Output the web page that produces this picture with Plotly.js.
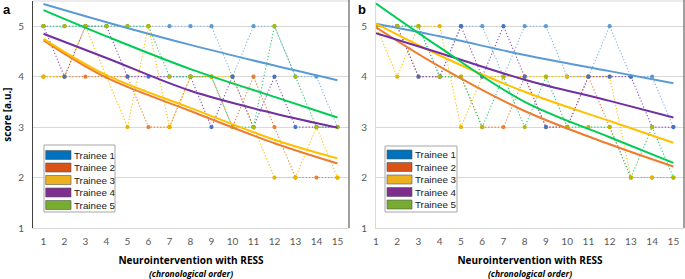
<!DOCTYPE html>
<html>
<head>
<meta charset="utf-8">
<script src="https://cdn.plot.ly/plotly-3.0.1.min.js"></script>
<style>html,body{margin:0;padding:0;background:#fff;}#chart{width:685px;height:279px;}</style>
</head>
<body>
<div id="chart"></div>
<script>
// ---------- data ----------
const interventions = [1,2,3,4,5,6,7,8,9,10,11,12,13,14,15];
const trainees = ['Trainee 1','Trainee 2','Trainee 3','Trainee 4','Trainee 5'];
const yTicks = [1,2,3,4,5];

// panel a: scores per intervention
const aTrainee1 = [5,5,5,5,5,5,5,5,5,4,5,5,4,4,3];
const aTrainee2 = [4,4,4,4,4,3,3,4,4,3,4,3,2,2,2];
const aTrainee3 = [4,4,5,4,3,5,3,4,4,4,3,2,2,3,2];
const aTrainee4 = [5,4,5,5,4,4,4,4,3,4,3,4,3,3,3];
const aTrainee5 = [5,5,5,5,5,5,4,4,4,3,3,5,4,3,3];

// panel b: scores per intervention
const bTrainee1 = [5,5,5,4,5,5,4,5,5,4,4,5,4,4,3];
const bTrainee2 = [5,5,4,4,4,3,3,4,3,3,4,3,2,2,2];
const bTrainee3 = [5,4,5,5,3,4,4,4,4,4,4,4,2,2,2];
const bTrainee4 = [5,5,4,4,5,4,5,4,3,3,4,4,4,3,3];
const bTrainee5 = [5,5,5,4,4,3,4,3,4,3,3,3,2,3,2];

// trend lines (at these interventions)
const trendX = [1,4,8,12,15];
const aTrend1 = [5.44,5.08,4.63,4.22,3.93];
const aTrend2 = [4.72,3.98,3.32,2.68,2.28];
const aTrend3 = [4.75,4.03,3.38,2.75,2.38];
const aTrend4 = [4.85,4.37,3.72,3.27,2.99];
const aTrend5 = [5.32,4.80,4.15,3.60,3.19];
const bTrend1 = [5.05,4.80,4.43,4.11,3.87];
const bTrend2 = [4.98,4.20,3.32,2.66,2.22];
const bTrend3 = [5.05,4.42,3.70,3.12,2.69];
const bTrend4 = [4.86,4.47,3.94,3.52,3.19];
const bTrend5 = [5.45,4.58,3.50,2.80,2.29];

// ---------- styles ----------
const dotLine = ['#7fb2e3','#ED7D31','#FFC000','#8a4fbf','#2ccc75'];
const markerCol = ['#5B9BD5','#ED7D31','#E8B400','#4472C4','#B0BA00'];
const trendCol = ['#5B9BD5','#ED7D31','#FFC000','#7030A0','#00CC55'];
const legendCol = ['#0072BD','#D95319','#EDB120','#7E2F8E','#77AC30'];

const aScores = [aTrainee1,aTrainee2,aTrainee3,aTrainee4,aTrainee5];
const bScores = [bTrainee1,bTrainee2,bTrainee3,bTrainee4,bTrainee5];
const aTrends = [aTrend1,aTrend2,aTrend3,aTrend4,aTrend5];
const bTrends = [bTrend1,bTrend2,bTrend3,bTrend4,bTrend5];

const traces = [];
function addPanel(scores, trends, xa, ya){
  scores.forEach((s,i)=>{
    traces.push({x:interventions, y:s, xaxis:xa, yaxis:ya, type:'scatter', mode:'lines+markers',
      name:trainees[i], showlegend:false,
      line:{color:dotLine[i], width:1.1, dash:'1.2px,2px'},
      marker:{color:markerCol[i], size:4.2}});
  });
  trends.forEach((t,i)=>{
    traces.push({x:trendX, y:t, xaxis:xa, yaxis:ya, type:'scatter', mode:'lines',
      name:trainees[i]+' trend', showlegend:false,
      line:{color:trendCol[i], width:2, shape:'spline', smoothing:1}});
  });
}
addPanel(aScores, aTrends, 'x', 'y');
addPanel(bScores, bTrends, 'x2', 'y2');

// ---------- layout helpers ----------
const W=685, H=279, ML=33, MR=1, MT=1, MB=51;
const PW=W-ML-MR, PH=H-MT-MB;
const px = v => (v-ML)/PW;
const py = v => (H-MB-v)/PH;

const tickFont = {family:'Lato, Open Sans, sans-serif', size:10, color:'#595959'};
const xTitle = {text:'<b>Neurointervention with RESS</b><br><b><i><span style="font-size:8.5px">(chronological order)</span></i></b>',
  font:{family:'Open Sans, Lato, sans-serif', size:10, color:'#000'}, standoff:11};

const shapes = [];
const annotations = [];
// frame lines
shapes.push({type:'line', xref:'paper', yref:'paper', x0:0, x1:px(349), y0:1, y1:1, line:{color:'#d9d9d9', width:1}});
shapes.push({type:'line', xref:'paper', yref:'paper', x0:px(349), x1:px(349), y0:0, y1:py(0), line:{color:'#404040', width:1}});
shapes.push({type:'line', xref:'paper', yref:'paper', x0:px(376), x1:1, y0:1, y1:1, line:{color:'#d9d9d9', width:1}});
shapes.push({type:'line', xref:'paper', yref:'paper', x0:1, x1:1, y0:0, y1:py(0), line:{color:'#404040', width:1}});

// manual legends
function addLegend(box, swX0, swX1, textX, centers){
  shapes.push({type:'rect', xref:'paper', yref:'paper', x0:px(box[0]), x1:px(box[1]), y0:py(box[3]), y1:py(box[2]),
    fillcolor:'#fff', line:{color:'#a6a6a6', width:1}, layer:'above'});
  trainees.forEach((name,i)=>{
    const c = centers[i];
    shapes.push({type:'rect', xref:'paper', yref:'paper', x0:px(swX0), x1:px(swX1), y0:py(c+4.5), y1:py(c-4.5),
      fillcolor:legendCol[i], line:{color:'#555', width:0.6}, layer:'above'});
    annotations.push({xref:'paper', yref:'paper', x:px(textX), y:py(c), xanchor:'left', yanchor:'middle',
      text:name, showarrow:false, font:{family:'Liberation Sans, Arial, sans-serif', size:9.8, color:'#1a1a1a'}});
  });
}
addLegend([44,115,145,212], 45.7, 71, 72, [155,167.5,180,192.5,205]);
addLegend([385,457,146,212], 387, 412, 413, [154.5,167,179.5,192,204.5]);

// panel letters
annotations.push({xref:'paper', yref:'paper', x:px(1), y:py(9), xanchor:'left', yanchor:'middle', text:'<b>a</b>', showarrow:false,
  font:{family:'Liberation Sans, Arial, sans-serif', size:13, color:'#000'}});
annotations.push({xref:'paper', yref:'paper', x:px(356), y:py(9), xanchor:'left', yanchor:'middle', text:'<b>b</b>', showarrow:false,
  font:{family:'Liberation Sans, Arial, sans-serif', size:13, color:'#000'}});

const layout = {
  width:W, height:H, margin:{l:ML, r:MR, t:MT, b:MB},
  paper_bgcolor:'#fff', plot_bgcolor:'#fff', showlegend:false,
  xaxis:{domain:[0, px(349)], range:[0.5,15.55], tickvals:interventions, ticktext:interventions.map(String),
    showgrid:false, zeroline:false, showline:true, linecolor:'#d9d9d9', ticks:'', tickfont:tickFont,
    ticklabelstandoff:4, title:xTitle},
  yaxis:{domain:[0,1], range:[1,5.5], tickvals:yTicks, ticktext:yTicks.map(String), showgrid:true, gridcolor:'#d9d9d9',
    zeroline:false, showline:true, linecolor:'#404040', ticks:'', tickfont:tickFont, ticklabelstandoff:6,
    title:{text:'<b>score [a.u.]</b>', font:{family:'Open Sans, Lato, sans-serif', size:10, color:'#000'}, standoff:4}},
  xaxis2:{domain:[px(376), 1], range:[1,15.5], anchor:'y2', tickvals:interventions, ticktext:interventions.map(String),
    showgrid:false, zeroline:false, showline:true, linecolor:'#d9d9d9', ticks:'', tickfont:tickFont,
    ticklabelstandoff:4, title:xTitle},
  yaxis2:{domain:[0,1], range:[1,5.5], anchor:'x2', tickvals:yTicks, ticktext:yTicks.map(String), showgrid:true, gridcolor:'#d9d9d9',
    zeroline:false, showline:true, linecolor:'#d9d9d9', ticks:'', tickfont:tickFont, ticklabelstandoff:6},
  shapes:shapes, annotations:annotations
};

Plotly.newPlot('chart', traces, layout, {displayModeBar:false, staticPlot:true});
</script>
</body>
</html>
